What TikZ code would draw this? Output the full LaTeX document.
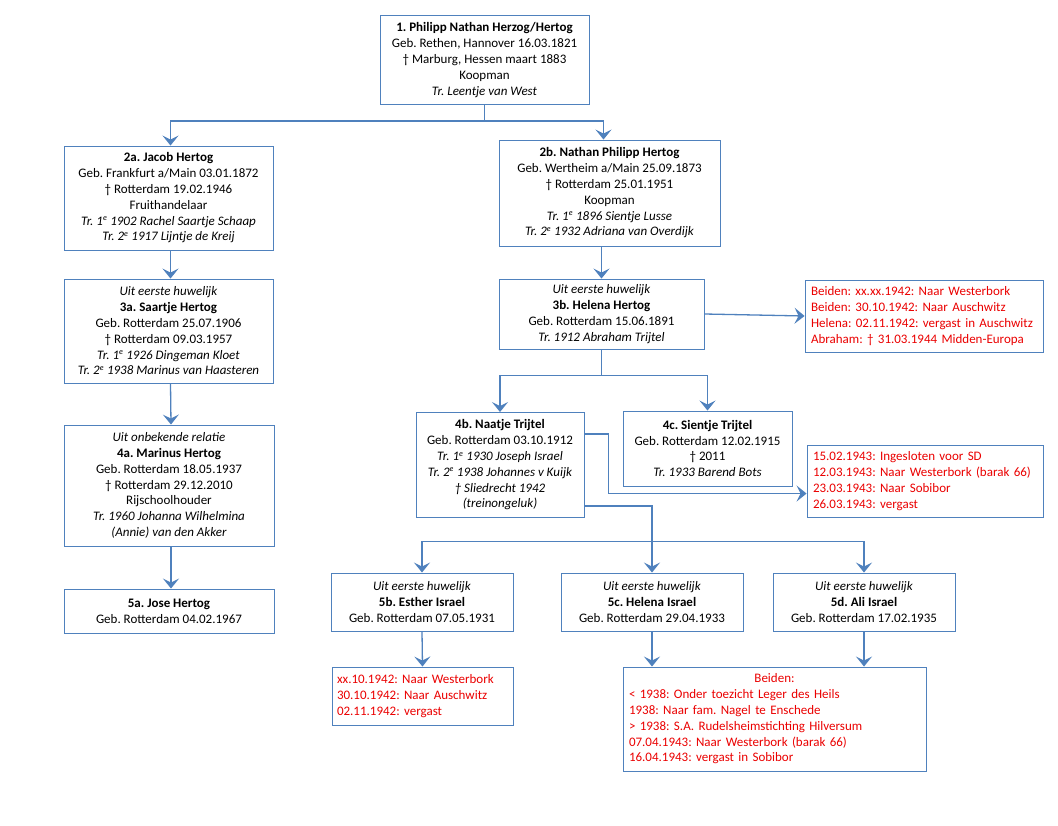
\documentclass[tikz,border=0pt]{standalone}
\usepackage{fontspec}
\setmainfont{Carlito}
\usetikzlibrary{arrows.meta,calc}
\definecolor{bblue}{RGB}{79,129,189}
\definecolor{rtext}{RGB}{235,0,0}
\newcommand{\sps}[1]{\textsuperscript{\fontsize{8}{8}\selectfont #1}}
\begin{document}
\frenchspacing
\begin{tikzpicture}[x=1pt,y=-1pt,
  box/.style={draw=bblue,line width=0.9pt,fill=white,inner sep=0pt,align=center,
    font=\frenchspacing\fontsize{13}{15.8}\selectfont},
  rbox/.style={box,text=rtext,align=left},
  conn/.style={draw=bblue,line width=1.3pt},
  arr/.style={conn,-{Stealth[length=10pt,width=16pt,inset=4pt]}}]
\useasboundingbox (0,0) rectangle (1058,826);
\fill[white] (0,0) rectangle (1058,826);

\node[box,minimum width=209pt,minimum height=89pt] (n1) at (484.5,60)
 {\textbf{1. Philipp Nathan Herzog/Hertog}\\Geb. Rethen, Hannover 16.03.1821\\† Marburg, Hessen maart 1883\\Koopman\\\textit{Tr. Leentje van West}};

\node[box,minimum width=209pt,minimum height=104pt] (n2a) at (168.5,198)
 {\textbf{2a. Jacob Hertog}\\Geb. Frankfurt a/Main 03.01.1872\\† Rotterdam 19.02.1946\\Fruithandelaar\\\textit{Tr. 1\sps{e} 1902 Rachel Saartje Schaap}\\\textit{Tr. 2\sps{e} 1917 Lijntje de Kreij}};

\node[box,minimum width=221pt,minimum height=106pt] (n2b) at (609.5,193)
 {\textbf{2b. Nathan Philipp Hertog}\\Geb. Wertheim a/Main 25.09.1873\\† Rotterdam 25.01.1951\\Koopman\\\textit{Tr. 1\sps{e} 1896 Sientje Lusse}\\\textit{Tr. 2\sps{e} 1932 Adriana van Overdijk}};

\node[box,minimum width=209pt,minimum height=104pt] (n3a) at (168.5,331)
 {\textit{Uit eerste huwelijk}\\\textbf{3a. Saartje Hertog}\\Geb. Rotterdam 25.07.1906\\† Rotterdam 09.03.1957\\\textit{Tr. 1\sps{e} 1926 Dingeman Kloet}\\\textit{Tr. 2\sps{e} 1938 Marinus van Haasteren}};

\node[box,minimum width=205pt,minimum height=70pt] (n3b) at (601.5,314)
 {\textit{Uit eerste huwelijk}\\\textbf{3b. Helena Hertog}\\Geb. Rotterdam 15.06.1891\\\textit{Tr. 1912 Abraham Trijtel}};

\node[rbox,minimum width=238pt,minimum height=72pt,text width=226pt] (r1) at (924,316)
 {Beiden: xx.xx.1942: Naar Westerbork\\Beiden: 30.10.1942: Naar Auschwitz\\Helena: 02.11.1942: vergast in Auschwitz\\Abraham: † 31.03.1944 Midden-Europa};

\node[box,minimum width=210pt,minimum height=121pt] (n4a) at (169,485.5)
 {\textit{Uit onbekende relatie}\\\textbf{4a. Marinus Hertog}\\Geb. Rotterdam 18.05.1937\\† Rotterdam 29.12.2010\\Rijschoolhouder\\\textit{Tr. 1960 Johanna Wilhelmina}\\\textit{(Annie) van den Akker}};

\node[box,minimum width=168pt,minimum height=105pt] (n4b) at (500,465)
 {\textbf{4b. Naatje Trijtel}\\Geb. Rotterdam 03.10.1912\\\textit{Tr. 1\sps{e} 1930 Joseph Israel}\\\textit{Tr. 2\sps{e} 1938 Johannes v Kuijk}\\\textit{† Sliedrecht 1942}\\\textit{(treinongeluk)}};

\node[box,minimum width=169pt,minimum height=75pt] (n4c) at (707.5,448.5)
 {\textbf{4c. Sientje Trijtel}\\Geb. Rotterdam 12.02.1915\\† 2011\\\textit{Tr. 1933 Barend Bots}};

\node[rbox,minimum width=236pt,minimum height=72pt,text width=224pt] (r2) at (925,481)
 {15.02.1943: Ingesloten voor SD\\12.03.1943: Naar Westerbork (barak 66)\\23.03.1943: Naar Sobibor\\26.03.1943: vergast};

\node[box,minimum width=210pt,minimum height=44pt] (n5a) at (169,611)
 {\textbf{5a. Jose Hertog}\\Geb. Rotterdam 04.02.1967};

\node[box,minimum width=182pt,minimum height=58pt] (n5b) at (422,602)
 {\textit{Uit eerste huwelijk}\\\textbf{5b. Esther Israel}\\Geb. Rotterdam 07.05.1931};

\node[box,minimum width=182pt,minimum height=58pt] (n5c) at (652,602)
 {\textit{Uit eerste huwelijk}\\\textbf{5c. Helena Israel}\\Geb. Rotterdam 29.04.1933};

\node[box,minimum width=182pt,minimum height=58pt] (n5d) at (864,602)
 {\textit{Uit eerste huwelijk}\\\textbf{5d. Ali Israel}\\Geb. Rotterdam 17.02.1935};

\node[rbox,minimum width=181pt,minimum height=58pt,text width=171pt] (r3) at (422.5,696)
 {xx.10.1942: Naar Westerbork\\30.10.1942: Naar Auschwitz\\02.11.1942: vergast};

\node[rbox,minimum width=303pt,minimum height=104pt,text width=291pt] (r4) at (774.5,719)
 {\centerline{Beiden:}\\{}< 1938: Onder toezicht Leger des Heils\\1938: Naar fam. Nagel te Enschede\\> 1938: S.A. Rudelsheimstichting Hilversum\\07.04.1943: Naar Westerbork (barak 66)\\16.04.1943: vergast in Sobibor};

% connectors
\draw[arr] (n1.south) -- ++(0,16) -| ([xshift=2pt]n2a.north);
\draw[arr] (n1.south) -- ++(0,16) -| ([xshift=-6pt]n2b.north);
\draw[arr] ([xshift=2pt]n2a.south) -- ([xshift=2pt]n3a.north);
\draw[arr] (n3b.north |- n2b.south) -- (n3b.north);
\draw[arr] (n3b.east) -- (r1.west);
\draw[arr] ([xshift=2pt]n3a.south) -- ([xshift=2pt]n4a.north);
\draw[arr] (n3b.south) -- ++(0,26) -| (n4b.north);
\draw[arr] (n3b.south) -- ++(0,26) -| (n4c.north);
\draw[arr] ([xshift=2pt]n4a.south) -- ([xshift=2pt]n5a.north);
\draw[arr] ($(n4b.north east)+(0,22)$) -- ++(24,0) |- ($(r2.north west)+(0,49)$);
\draw[arr] ($(n4b.north east)+(0,94)$) -| (n5c.north);
\coordinate (bus) at ($(n5c.north)+(0,-31)$);
\draw[arr] (bus) -| (n5b.north);
\draw[arr] (bus) -| (n5d.north);
\draw[arr] (n5b.south) -- (r3.north);
\draw[arr] (n5c.south) -- (n5c.south |- r4.north);
\draw[arr] (n5d.south) -- (n5d.south |- r4.north);
\end{tikzpicture}
\end{document}
